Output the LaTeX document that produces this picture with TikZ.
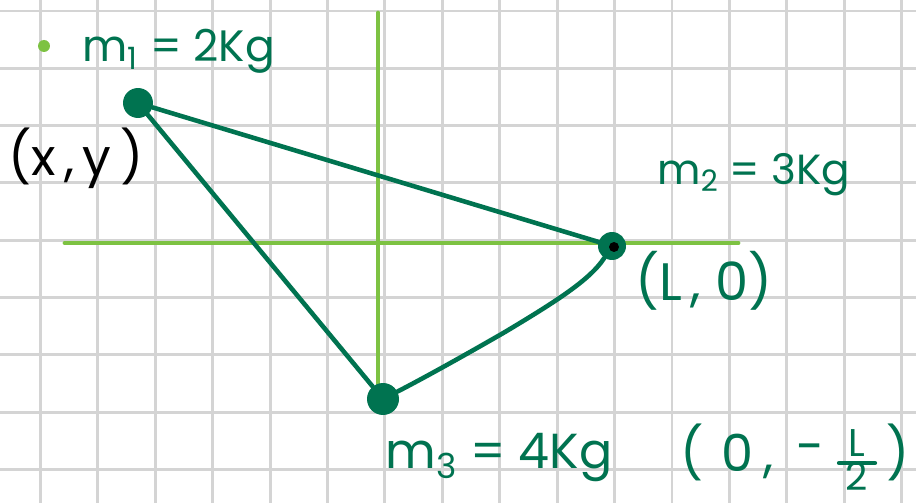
\documentclass[tikz,border=0pt]{standalone}
\usepackage{amsmath}
\usepackage{fontspec}
\setmainfont{Poppins}
\usepackage{tikz}
\usetikzlibrary{positioning}
\usepackage{xcolor}
\definecolor{inkgreen}{RGB}{0,115,80}
\definecolor{axisgreen}{RGB}{125,194,66}
\definecolor{gridgray}{RGB}{212,212,212}

\begin{document}
\begin{tikzpicture}[
    x=0.02cm, y=-0.02cm,
    gridline/.style = {draw=gridgray, line width=1.6pt},
    axis/.style = {draw=axisgreen, line width=2.8pt, line cap=round},
    rod/.style = {draw=inkgreen, line width=2.6pt, line cap=round},
    mass/.style = {circle, fill=inkgreen, inner sep=0pt},
    lbl/.style = {text=inkgreen, inner sep=0pt, anchor=base west},
    coord/.style = {inner sep=0pt, anchor=base west},
    fracpart/.style = {text=inkgreen, inner sep=0pt, anchor=base, font=\fontsize{22}{24}\selectfont}
]
\useasboundingbox (0,0) rectangle (916,503);
\fill[white] (0,0) rectangle (916,503);

% Grid
\foreach \k in {0,...,15} {
  \draw [gridline] (40.5+57.4*\k, 0) -- (40.5+57.4*\k, 503);
}
\foreach \k in {0,...,8} {
  \draw [gridline] (0, 11+57.3*\k) -- (916, 11+57.3*\k);
}

% Axes
\coordinate (xleft) at (65, 243);
\coordinate (xright) at (738, 243);
\coordinate (ytop) at (378, 13);
\coordinate (ybot) at (378, 392);
\draw [axis] (xleft) -- (xright);
\draw [axis] (ytop) -- (ybot);

% Masses
\node (m1) [mass, minimum size=0.6cm] at (138, 103) {};
\node (m2) [mass, minimum size=0.56cm] at (612, 246) {};
\node (m3) [mass, minimum size=0.64cm] at (383, 399) {};
\fill (614, 247) circle [radius=5];

% Rods
\draw [rod] (m1) -- (m2);
\draw [rod] (m1) -- (m3);
\draw [rod] (m3) .. controls (420, 380) and (460, 358) .. (505, 332)
                 .. controls (555, 302) and (590, 280) .. (m2);

% Labels
\node (dot) [circle, fill=axisgreen, inner sep=0pt, minimum size=0.24cm] at (44, 46) {};
\node (m1lbl) [lbl, font=\fontsize{25}{30}\selectfont] at (82, 62) {m\textsubscript{1} = 2Kg};
\node (m1pos) [coord, font=\fontsize{29}{34}\selectfont] at (8, 176) {(x\,,\,y\,)};
\node (m2lbl) [lbl, font=\fontsize{24}{29}\selectfont] at (657, 185) {m\textsubscript{2} = 3Kg};
\node (m2pos) [lbl, font=\fontsize{30}{34}\selectfont] at (635, 300) {(L\,, 0)};
\node (m3lbl) [lbl, font=\fontsize{28}{32}\selectfont] at (385, 468) {m\textsubscript{3} = 4Kg};
\node (m3pos) [lbl, font=\fontsize{29}{34}\selectfont] at (680, 471)
  {(\hspace{0.35em}0\hspace{0.2em},\hspace{0.45em}\raisebox{0.12em}{-}};
\node (fracL) [fracpart] at (857, 456) {L};
\node (frac2) [fracpart] at (857, 490) {2};
\draw [inkgreen, line width=2.4pt, line cap=round] (839, 463) -- (875, 463);
\node (m3close) [lbl, font=\fontsize{29}{34}\selectfont] at (886, 471) {)};

\end{tikzpicture}
\end{document}
